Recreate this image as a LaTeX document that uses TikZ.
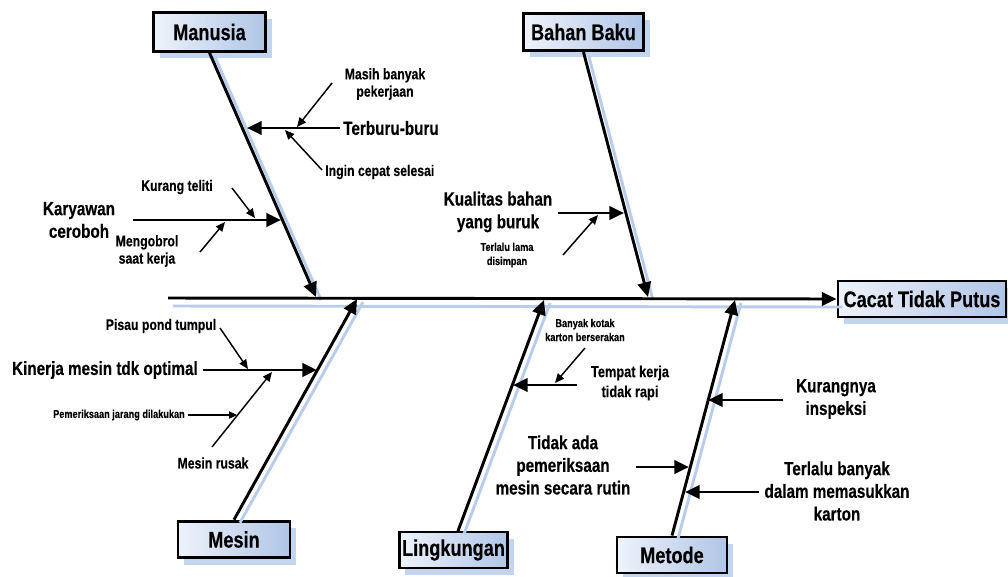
\documentclass[tikz,border=0pt]{standalone}
\usepackage{fontspec}
\setmainfont{Liberation Sans}[FakeStretch=0.8, BoldFeatures={FakeBold=0.3}]
\usetikzlibrary{arrows.meta,shadows,calc}
\definecolor{boxL}{RGB}{238,243,251}
\definecolor{boxR}{RGB}{176,197,230}
\definecolor{shadowblue}{RGB}{184,204,236}
\begin{document}
\begin{tikzpicture}[x=0.75pt,y=-0.75pt,
  catbox/.style={draw=black, line width=2.2pt, left color=boxL, right color=boxR, inner sep=0pt,
    font=\fontsize{17}{19}\selectfont\bfseries,
    drop shadow={shadow xshift=4.5pt, shadow yshift=-5pt, fill=shadowblue, opacity=0.85}},
  bone/.style={line width=2.2pt, -{Triangle[length=11pt,width=10pt]}},
  boneshadow/.style={line width=2.2pt, draw=shadowblue},
  major/.style={line width=2.2pt, -{Triangle[length=11pt,width=10pt]}},
  minor/.style={line width=1.1pt, -{Triangle[length=7pt,width=6pt]}},
  minimal/.style={line width=0.8pt, -{Triangle[length=6pt,width=5.5pt]}},
  lblbig/.style={font=\fontsize{14.3}{17}\selectfont\bfseries, align=center, inner sep=0pt},
  lblmid/.style={font=\fontsize{12}{15}\selectfont\bfseries, align=center, inner sep=0pt},
  lblsmall/.style={font=\fontsize{11.5}{13}\selectfont\bfseries, align=center, inner sep=0pt},
  lbltiny/.style={font=\fontsize{8.6}{10.5}\selectfont\bfseries, align=center, inner sep=0pt},
]
\useasboundingbox (0,0) rectangle (1008,576);

% ---------- category boxes ----------
\node[catbox, minimum width=126pt, minimum height=27pt] (head) at (922,299) {Cacat Tidak Putus};
\node[catbox, minimum width=84pt, minimum height=29pt] (manusia) at (209.5,32) {Manusia};
\node[catbox, minimum width=90pt, minimum height=28pt] (bahan) at (583.5,32) {Bahan Baku};
\node[catbox, minimum width=84pt, minimum height=27.5pt] (mesin) at (234,539.5) {Mesin};
\node[catbox, minimum width=81.5pt, minimum height=27pt] (ling) at (453.5,550) {Lingkungan};
\node[catbox, minimum width=82.5pt, minimum height=27pt] (metode) at (672,555) {Metode};

% ---------- coordinates of the spine and bones ----------
\coordinate (sp0) at (168,298);
\coordinate (mtip) at (316,297);
\coordinate (btip) at (648,297);
\coordinate (stip) at (357,299);
\coordinate (ltip) at (544,300);
\coordinate (ltail) at (458,531);
\coordinate (etip) at (735,300);

% ---------- shadows of spine and bones ----------
\draw[boneshadow] ([shift={(5,8)}]sp0) -- ([shift={(6,8)}]head.west);
\draw[boneshadow] ([shift={(5,3)}]manusia.south) -- ([shift={(5,3)}]mtip);
\draw[boneshadow] ([shift={(5,3)}]bahan.south) -- ([shift={(5,3)}]btip);
\draw[boneshadow] ([shift={(6,3)}]mesin.north) -- ([shift={(6,3)}]stip);
\draw[boneshadow] ([shift={(6,3)}]ltail) -- ([shift={(6,3)}]ltip);
\draw[boneshadow] ([shift={(6,3)}]metode.north) -- ([shift={(6,3)}]etip);

% ---------- spine and bones ----------
\draw[bone] (sp0) -- (head.west);
\draw[bone] (manusia.south) -- (mtip);
\draw[bone] (bahan.south) -- (btip);
\draw[bone] (mesin.north) -- (stip);
\draw[bone] (ltail) -- (ltip);
\draw[bone] (metode.north) -- (etip);

% ---------- Manusia ----------
\node[lblbig, anchor=west] (terb) at (343,128) {Terburu-buru};
\node[lblsmall] (masih) at (385,84) {Masih banyak\\pekerjaan};
\node[lblsmall, anchor=west] (ingin) at (325,172) {Ingin cepat selesai};
\node[lblbig] (kary) at (79,220) {Karyawan\\ceroboh};
\node[lblsmall] (kurang) at (177,187) {Kurang teliti};
\node[lblsmall] (ngobrol) at (147,251) {Mengobrol\\saat kerja};

\coordinate (terbS) at (340,128); \coordinate (terbT) at (247,128);
\coordinate (masihS) at (332,83); \coordinate (masihT) at (297,127);
\coordinate (inginS) at (322,170); \coordinate (inginT) at (285,130);
\coordinate (karyS) at (133,220); \coordinate (karyT) at (281,220);
\coordinate (kurangS) at (232,188); \coordinate (kurangT) at (255,218);
\coordinate (ngobrolS) at (200,252); \coordinate (ngobrolT) at (225,222);
\draw[major] (terbS) -- (terbT);
\draw[minor] (masihS) -- (masihT);
\draw[minor] (inginS) -- (inginT);
\draw[major] (karyS) -- (karyT);
\draw[minor] (kurangS) -- (kurangT);
\draw[minor] (ngobrolS) -- (ngobrolT);

% ---------- Bahan Baku ----------
\node[lblbig] (kual) at (498,212) {Kualitas bahan\\yang buruk};
\node[lbltiny] (lama) at (507,255) {Terlalu lama\\disimpan};
\coordinate (kualS) at (558,213); \coordinate (kualT) at (624,213);
\coordinate (lamaS) at (563,255); \coordinate (lamaT) at (598,215);
\draw[major] (kualS) -- (kualT);
\draw[minor] (lamaS) -- (lamaT);

% ---------- Mesin ----------
\node[lblbig, anchor=east] (kin) at (198,370) {Kinerja mesin tdk optimal};
\node[lblsmall] (pisau) at (161,326) {Pisau pond tumpul};
\node[lbltiny, anchor=east] (periksa) at (185,415) {Pemeriksaan jarang dilakukan};
\node[lblsmall] (rusak) at (213,463) {Mesin rusak};
\coordinate (kinS) at (203,370); \coordinate (kinT) at (317,370);
\coordinate (pisauS) at (220,328); \coordinate (pisauT) at (248,369);
\coordinate (periksaS) at (188,415); \coordinate (periksaT) at (237,415);
\coordinate (rusakS) at (212,447); \coordinate (rusakT) at (272,372);
\draw[major] (kinS) -- (kinT);
\draw[minor] (pisauS) -- (pisauT);
\draw[minimal] (periksaS) -- (periksaT);
\draw[minor] (rusakS) -- (rusakT);

% ---------- Lingkungan ----------
\node[lblmid] (tempat) at (630,383) {Tempat kerja\\tidak rapi};
\node[lbltiny] (kotak) at (585,330) {Banyak kotak\\karton berserakan};
\coordinate (tempatS) at (577,385); \coordinate (tempatT) at (513,385);
\coordinate (kotakS) at (585,348); \coordinate (kotakT) at (555,383);
\draw[major] (tempatS) -- (tempatT);
\draw[minor] (kotakS) -- (kotakT);

% ---------- Metode ----------
\node[lblbig] (kurangnya) at (836,399) {Kurangnya\\inspeksi};
\node[lblbig] (tidakada) at (563,465) {Tidak ada\\pemeriksaan\\mesin secara rutin};
\node[lblbig] (terlalu) at (837,491) {Terlalu banyak\\dalam memasukkan\\karton};
\coordinate (kurangnyaS) at (783,400); \coordinate (kurangnyaT) at (708,400);
\coordinate (tidakadaS) at (636,467); \coordinate (tidakadaT) at (689,467);
\coordinate (terlaluS) at (759,492); \coordinate (terlaluT) at (685,492);
\draw[major] (kurangnyaS) -- (kurangnyaT);
\draw[major] (tidakadaS) -- (tidakadaT);
\draw[major] (terlaluS) -- (terlaluT);
\end{tikzpicture}
\end{document}
